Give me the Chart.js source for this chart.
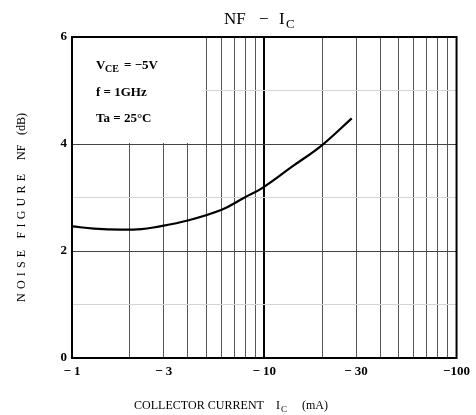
<!DOCTYPE html>
<html>
<head>
<meta charset="utf-8">
<script src="https://cdn.jsdelivr.net/npm/chart.js@4"></script>
<style>
  body { margin: 0; background: #fff; }
  #wrap { width: 476px; height: 415px; }
</style>
</head>
<body>
<div id="wrap"><canvas id="nfChart" width="476" height="415"></canvas></div>
<script>
const currents = [1, 1.3, 1.8, 2.3, 2.65, 4.0, 6.0, 7.9, 9.8, 14, 20, 28.5];
const noiseFigure = [2.46, 2.42, 2.4, 2.41, 2.44, 2.57, 2.77, 3.0, 3.18, 3.58, 3.98, 4.48];
const xGrid = [1, 2, 3, 4, 5, 6, 7, 8, 9, 10, 20, 30, 40, 50, 60, 70, 80, 90, 100];
const xLabels = { 1: "\u2212 1", 3: "\u2212 3", 10: "\u2212 10", 30: "\u2212 30", 100: "\u2212100" };
const yGrid = [0, 1, 2, 3, 4, 5, 6];
const yLabels = [0, 2, 4, 6];

const serif = "'Liberation Serif', 'DejaVu Serif', serif";

// draw text stretched between x0 and x1 (letter spacing)
function spanText(ctx, text, x0, x1, y) {
  ctx.letterSpacing = "0px";
  const w = ctx.measureText(text).width;
  const sp = Math.max(0, (x1 - x0 - w) / Math.max(1, text.length - 1));
  ctx.letterSpacing = sp.toFixed(2) + "px";
  ctx.fillText(text, x0, y);
  ctx.letterSpacing = "0px";
}

const frameAndText = {
  id: "frameAndText",
  beforeDatasetsDraw(chart) {
    const { ctx, chartArea: a, scales } = chart;
    ctx.save();
    // white box behind the test conditions
    const bx = scales.x.getPixelForValue(5);
    const by = scales.y.getPixelForValue(4);
    ctx.fillStyle = "#fff";
    ctx.fillRect(a.left + 1, a.top + 1, bx - a.left - 2, by - a.top - 2);
    ctx.strokeStyle = "#000";
    ctx.lineWidth = 2;
    ctx.strokeRect(a.left, a.top, a.right - a.left, a.bottom - a.top);
    ctx.restore();
  },
  afterDraw(chart) {
    const { ctx } = chart;
    ctx.save();
    ctx.fillStyle = "#000";
    ctx.textBaseline = "alphabetic";
    ctx.textAlign = "left";

    // title NF - Ic
    ctx.font = "17px " + serif;
    spanText(ctx, "NF", 224, 245, 24);
    ctx.fillText("\u2212", 259, 24);
    ctx.fillText("I", 279, 24);
    ctx.font = "13px " + serif;
    ctx.fillText("C", 286, 28);

    // conditions
    ctx.font = "bold 13px " + serif;
    ctx.fillText("V", 96, 69);
    ctx.font = "bold 10px " + serif;
    ctx.fillText("CE", 105, 72);
    ctx.font = "bold 13px " + serif;
    ctx.fillText("= \u22125V", 124, 69);
    ctx.fillText("f = 1GHz", 96, 96);
    ctx.fillText("Ta = 25\u00b0C", 96, 122);

    // x axis title
    ctx.font = "12px " + serif;
    spanText(ctx, "COLLECTOR CURRENT", 134, 264, 409);
    ctx.fillText("I", 276, 409);
    ctx.font = "9px " + serif;
    ctx.fillText("C", 281, 412);
    ctx.font = "12px " + serif;
    ctx.fillText("(mA)", 302, 409);

    // y axis title, rotated
    ctx.translate(25, 0);
    ctx.rotate(-Math.PI / 2);
    ctx.font = "12px " + serif;
    spanText(ctx, "NOISE FIGURE", -302, -174, 0);
    spanText(ctx, "NF", -160, -146, 0);
    ctx.fillText("(dB)", -135, 0);
    ctx.restore();
  }
};

new Chart(document.getElementById("nfChart"), {
  type: "line",
  data: {
    datasets: [
      {
        data: currents.map((c, i) => ({ x: c, y: noiseFigure[i] })),
        borderColor: "#000",
        borderWidth: 2.2,
        pointRadius: 0,
        tension: 0.4,
        fill: false,
      },
    ],
  },
  options: {
    responsive: false,
    animation: false,
    layout: { padding: { left: 0, right: 18, top: 37, bottom: 0 } },
    plugins: { legend: { display: false }, tooltip: { enabled: false } },
    scales: {
      x: {
        type: "logarithmic",
        min: 1,
        max: 100,
        afterBuildTicks: (s) => { s.ticks = xGrid.map((v) => ({ value: v })); },
        afterFit: (s) => { s.height = 57; },
        ticks: {
          autoSkip: false,
          maxRotation: 0,
          padding: 6,
          color: "#000",
          font: { family: serif, size: 13, weight: "bold" },
          callback: (v) => xLabels[v] || "",
        },
        grid: {
          color: (c) => (c.tick && c.tick.value === 10 ? "#000" : "#555"),
          lineWidth: (c) => (c.tick && c.tick.value === 10 ? 2 : 1),
          drawTicks: false,
        },
        border: { display: true, color: "#000", width: 2 },
      },
      y: {
        min: 0,
        max: 6,
        afterBuildTicks: (s) => { s.ticks = yGrid.map((v) => ({ value: v })); },
        afterFit: (s) => { s.width = 72; },
        ticks: {
          padding: 5,
          color: "#000",
          font: { family: serif, size: 13, weight: "bold" },
          callback: (v) => (yLabels.includes(v) ? String(v) : ""),
        },
        grid: {
          color: (c) => (c.tick && c.tick.value % 2 === 0 ? "#444" : "#d4d4d4"),
          lineWidth: 1,
          drawTicks: false,
        },
        border: { display: true, color: "#000", width: 2 },
      },
    },
  },
  plugins: [frameAndText],
});
</script>
</body>
</html>
